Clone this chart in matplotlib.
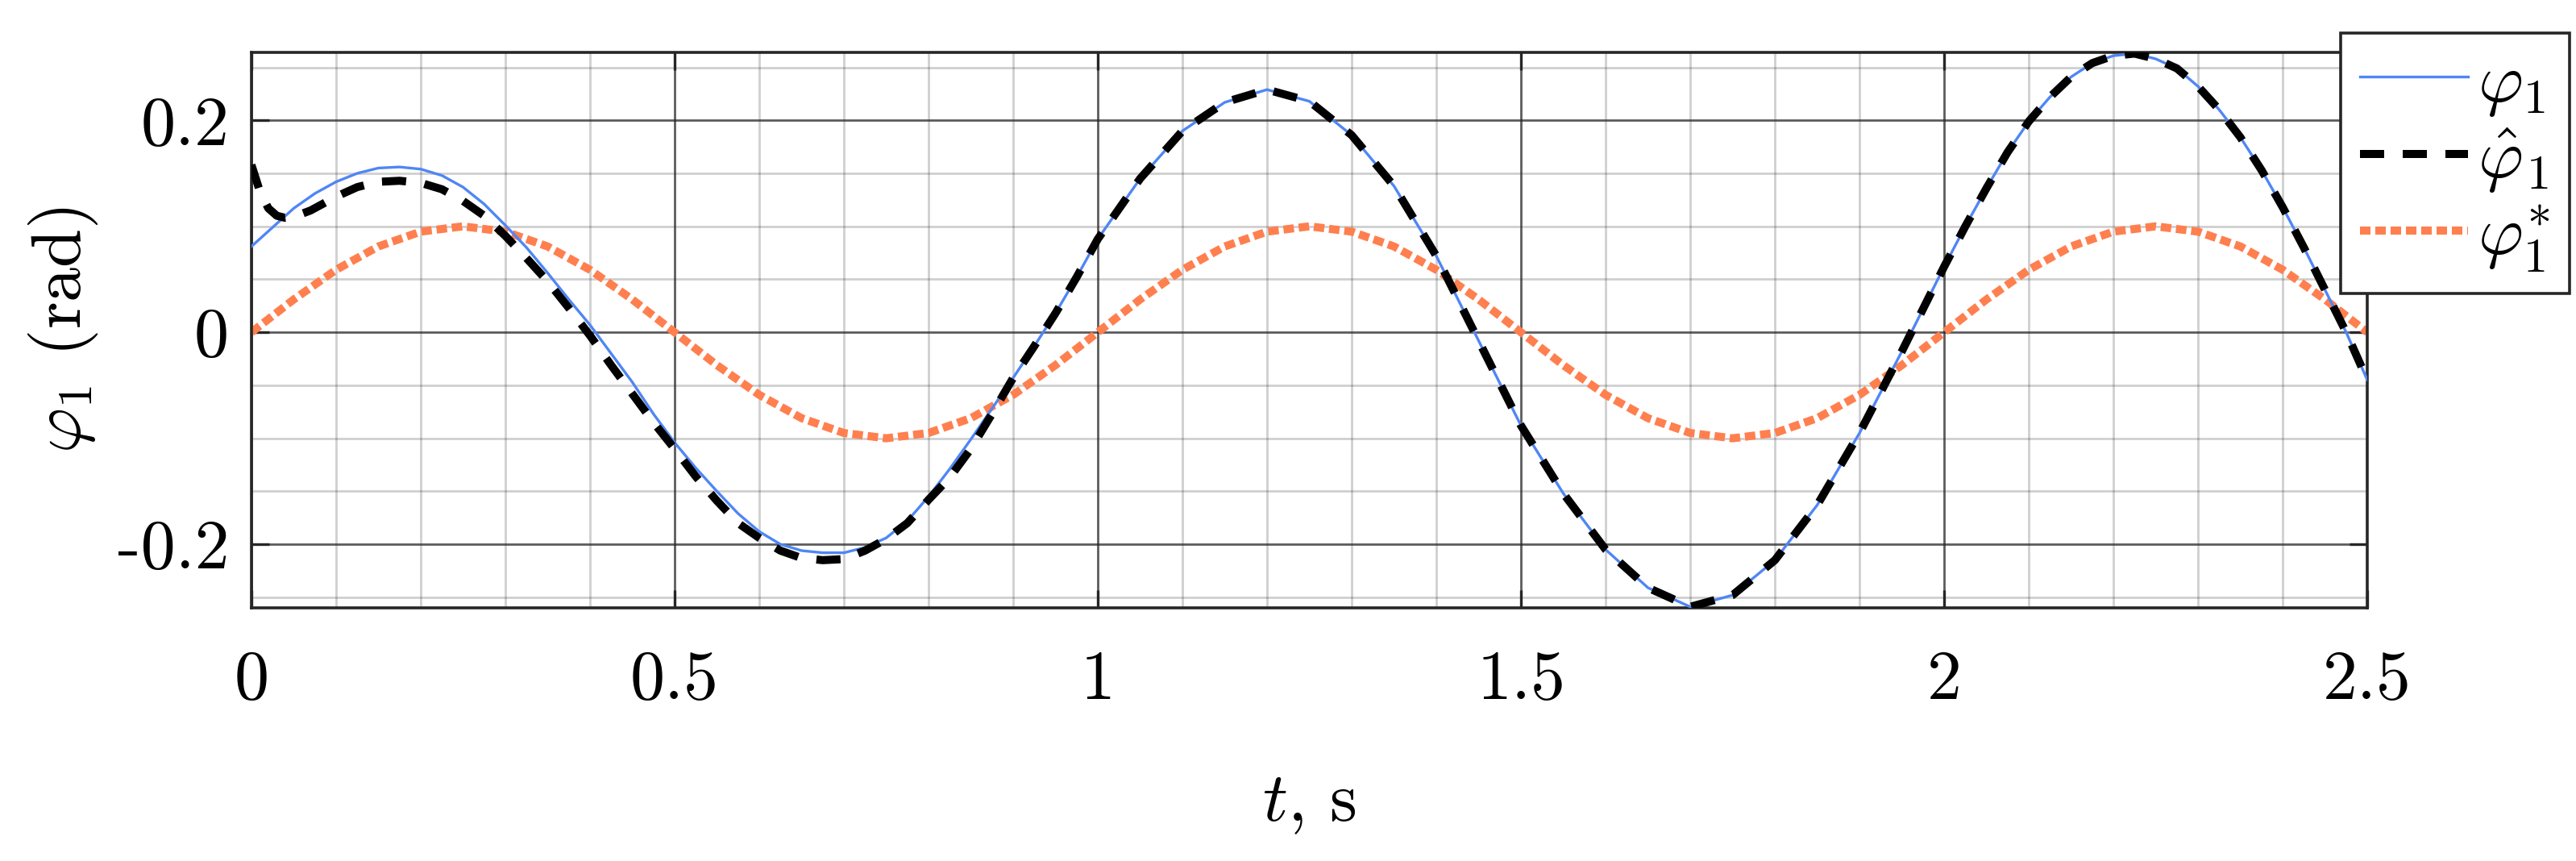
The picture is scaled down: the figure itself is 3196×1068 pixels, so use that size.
import matplotlib
matplotlib.use('Agg')
import matplotlib.pyplot as plt

plt.rcParams['font.family'] = 'cmr10'
plt.rcParams['mathtext.fontset'] = 'cm'
plt.rcParams['axes.unicode_minus'] = False
plt.rcParams['axes.formatter.use_mathtext'] = True

# phi_1 (measured), time in s
t_phi = [0.000, 0.025, 0.050, 0.075, 0.100, 0.125, 0.150, 0.175, 0.200, 0.225,
         0.250, 0.275, 0.300, 0.325, 0.350, 0.375, 0.400, 0.425, 0.450, 0.475,
         0.500, 0.525, 0.550, 0.575, 0.600, 0.625, 0.650, 0.675, 0.700, 0.725,
         0.750, 0.775, 0.800, 0.825, 0.850, 0.875, 0.900, 0.925, 0.950, 0.975,
         1.00, 1.05, 1.10, 1.15, 1.20, 1.25, 1.30, 1.35, 1.40, 1.45,
         1.50, 1.55, 1.60, 1.65, 1.70, 1.75, 1.80, 1.85, 1.90, 1.95,
         2.000, 2.025, 2.050, 2.075, 2.100, 2.125, 2.150, 2.175, 2.200, 2.225,
         2.250, 2.275, 2.300, 2.325, 2.350, 2.375, 2.400, 2.425, 2.450, 2.475, 2.500]
phi = [0.081, 0.099, 0.117, 0.131, 0.142, 0.150, 0.155, 0.156, 0.154, 0.148,
       0.137, 0.121, 0.101, 0.080, 0.056, 0.031, 0.007, -0.020, -0.047, -0.077,
       -0.104, -0.128, -0.150, -0.171, -0.188, -0.200, -0.206, -0.208, -0.208, -0.203,
       -0.194, -0.178, -0.155, -0.129, -0.101, -0.072, -0.043, -0.013, 0.018, 0.052,
       0.088, 0.145, 0.190, 0.217, 0.229, 0.218, 0.186, 0.138, 0.072, -0.008,
       -0.088, -0.152, -0.205, -0.241, -0.259, -0.248, -0.215, -0.163, -0.095, -0.018,
       0.062, 0.100, 0.136, 0.170, 0.199, 0.222, 0.241, 0.254, 0.261, 0.263,
       0.258, 0.249, 0.232, 0.210, 0.184, 0.153, 0.118, 0.080, 0.040, 0.000, -0.045]

# phi_1 hat (estimate), converges onto phi_1 after ~0.9 s
t_hat = [0.000, 0.010, 0.020, 0.030, 0.040, 0.050, 0.070, 0.100, 0.125, 0.150,
         0.175, 0.200, 0.225, 0.250, 0.275, 0.300, 0.325, 0.350, 0.375, 0.400,
         0.425, 0.450, 0.475, 0.500, 0.525, 0.550, 0.575, 0.600, 0.625, 0.650,
         0.675, 0.700, 0.725, 0.750, 0.775, 0.800, 0.825, 0.850, 0.875, 0.900,
         0.925, 0.950, 0.975,
         1.00, 1.05, 1.10, 1.15, 1.20, 1.25, 1.30, 1.35, 1.40, 1.45,
         1.50, 1.55, 1.60, 1.65, 1.70, 1.75, 1.80, 1.85, 1.90, 1.95,
         2.000, 2.025, 2.050, 2.075, 2.100, 2.125, 2.150, 2.175, 2.200, 2.225,
         2.250, 2.275, 2.300, 2.325, 2.350, 2.375, 2.400, 2.425, 2.450, 2.475, 2.500]
phi_hat = [0.158, 0.133, 0.117, 0.110, 0.108, 0.109, 0.115, 0.128, 0.137, 0.142,
           0.143, 0.141, 0.135, 0.124, 0.110, 0.091, 0.070, 0.048, 0.023, -0.003,
           -0.031, -0.058, -0.085, -0.110, -0.136, -0.159, -0.180, -0.194, -0.206, -0.213,
           -0.215, -0.214, -0.206, -0.195, -0.180, -0.158, -0.137, -0.110, -0.077, -0.043,
           -0.013, 0.018, 0.052,
           0.088, 0.145, 0.190, 0.217, 0.229, 0.218, 0.186, 0.138, 0.072, -0.008,
           -0.088, -0.152, -0.205, -0.241, -0.259, -0.248, -0.215, -0.163, -0.095, -0.018,
           0.062, 0.100, 0.136, 0.170, 0.199, 0.222, 0.241, 0.254, 0.261, 0.263,
           0.258, 0.249, 0.232, 0.210, 0.184, 0.153, 0.118, 0.080, 0.040, 0.000, -0.045]

# phi_1* (reference)
t_ref = [0.00, 0.05, 0.10, 0.15, 0.20, 0.25, 0.30, 0.35, 0.40, 0.45,
         0.50, 0.55, 0.60, 0.65, 0.70, 0.75, 0.80, 0.85, 0.90, 0.95,
         1.00, 1.05, 1.10, 1.15, 1.20, 1.25, 1.30, 1.35, 1.40, 1.45,
         1.50, 1.55, 1.60, 1.65, 1.70, 1.75, 1.80, 1.85, 1.90, 1.95,
         2.00, 2.05, 2.10, 2.15, 2.20, 2.25, 2.30, 2.35, 2.40, 2.45, 2.50]
phi_ref = [0.000, 0.031, 0.059, 0.081, 0.095, 0.100, 0.095, 0.081, 0.059, 0.031,
           0.000, -0.031, -0.059, -0.081, -0.095, -0.100, -0.095, -0.081, -0.059, -0.031,
           0.000, 0.031, 0.059, 0.081, 0.095, 0.100, 0.095, 0.081, 0.059, 0.031,
           0.000, -0.031, -0.059, -0.081, -0.095, -0.100, -0.095, -0.081, -0.059, -0.031,
           0.000, 0.031, 0.059, 0.081, 0.095, 0.100, 0.095, 0.081, 0.059, 0.031, 0.000]

xticks = [0, 0.5, 1, 1.5, 2, 2.5]
xticklabels = ['0', '0.5', '1', '1.5', '2', '2.5']
yticks = [-0.2, 0, 0.2]
yticklabels = ['-0.2', '0', '0.2']

fig = plt.figure(figsize=(15.98, 5.34), dpi=200)
ax = fig.add_axes([0.0976, 0.294, 0.8214, 0.645])

ax.plot(t_phi, phi, color='#4f86f5', lw=1.2, label=r'$\varphi_1$', zorder=3)
ax.plot(t_hat, phi_hat, color='black', lw=3.6, dashes=(3.0, 2.3),
        dash_capstyle='butt', label=r'$\hat{\varphi}_1$', zorder=4)
ax.plot(t_ref, phi_ref, color='#ff7f4f', lw=3.6, dashes=(1.3, 0.6),
        dash_capstyle='butt', label=r'$\varphi_1^{*}$', zorder=2)

ax.set_xlim(0, 2.5)
ax.set_ylim(-0.26, 0.264)
ax.set_xticks(xticks)
ax.set_xticklabels(xticklabels)
ax.set_yticks(yticks)
ax.set_yticklabels(yticklabels)
ax.set_xticks([i * 0.1 for i in range(26)], minor=True)
ax.set_yticks([-0.25, -0.15, -0.1, -0.05, 0.05, 0.1, 0.15, 0.25], minor=True)

ax.grid(which='major', color='#262626', alpha=0.75, lw=1.0)
ax.grid(which='minor', color='#262626', alpha=0.22, lw=1.0)
ax.set_axisbelow(True)

ax.tick_params(which='major', direction='in', length=8, width=1.2, top=True, right=True,
               labelsize=31, color='#262626')
ax.tick_params(axis='x', which='major', pad=19)
ax.tick_params(axis='y', which='major', pad=10)
ax.tick_params(which='minor', length=0, top=True, right=True)
for s in ax.spines.values():
    s.set_linewidth(1.3)
    s.set_color('#262626')

ax.set_xlabel(r'$t$, s', fontsize=31, va='center')
ax.xaxis.set_label_coords(0.5, -0.354)
ax.set_ylabel(r'$\varphi_1$ (rad)', fontsize=31, va='center')
ax.yaxis.set_label_coords(-0.089, 0.5)

leg = ax.legend(loc='upper left', bbox_to_anchor=(2904 / 3196, 1 - 41 / 1068),
                bbox_transform=fig.transFigure, borderaxespad=0, fontsize=31,
                fancybox=False, framealpha=1, edgecolor='#262626',
                handlelength=1.55, handletextpad=0.15, borderpad=0.28, labelspacing=0.12)
leg.get_frame().set_linewidth(1.3)
leg.set_zorder(10)

fig.savefig('out.png', dpi=200)
